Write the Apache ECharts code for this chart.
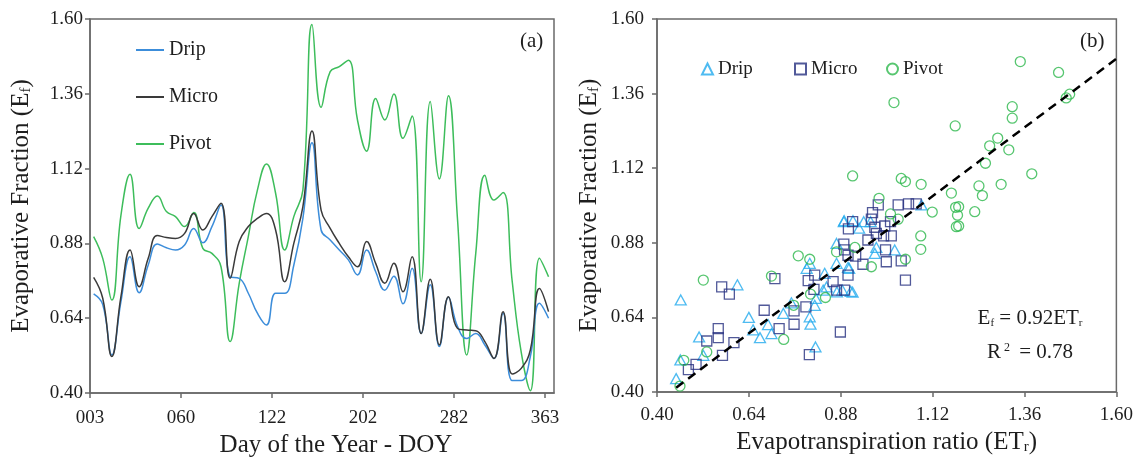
<!DOCTYPE html>
<html><head><meta charset="utf-8">
<script src="https://cdn.jsdelivr.net/npm/echarts@6/dist/echarts.min.js"></script>
<style>html,body{margin:0;padding:0;background:#fff}#c{width:1136px;height:463px}</style>
</head><body><div id="c"></div>
<script>
// ---------- Panel (a): time series ----------
const doyTickLabels = ['003', '060', '122', '202', '282', '363'];
const doyTickPos = [0, 10, 20, 30, 40, 50];
// observation positions along the DOY axis (in axis units)
const obsPos = [0.4, 1.4, 2.4, 3.4, 4.4, 5.4, 6.4, 7.4, 8.4, 9.4, 10.4, 11.4, 12.4, 13.4, 14.4, 15.4, 16.4, 17.4, 18.4, 19.4,
  20.4, 21.4, 22.4, 23.4, 24.4, 25.4, 26.4, 27.4, 28.4, 29.4, 30.4, 31.4, 32.4, 33.4, 34.4, 35.4, 36.4, 37.4, 38.4, 39.4,
  40.4, 41.4, 42.4, 43.4, 44.4, 45.4, 46.4, 47.4, 48.4, 49.4, 50.4];
const dripEf = [0.718, 0.684, 0.522, 0.693, 0.837, 0.722, 0.811, 0.878, 0.866, 0.859, 0.875, 0.928, 0.882, 0.934, 1.003, 0.773, 0.768,
  0.720, 0.656, 0.618, 0.720, 0.720, 0.810, 0.960, 1.203, 0.923, 0.891, 0.859, 0.827, 0.779, 0.859, 0.789, 0.730, 0.775, 0.686, 0.800,
  0.591, 0.747, 0.549, 0.707, 0.613, 0.575, 0.591, 0.554, 0.511, 0.656, 0.440, 0.440, 0.517, 0.688, 0.640];
const microEf = [0.771, 0.704, 0.517, 0.709, 0.859, 0.741, 0.832, 0.905, 0.899, 0.896, 0.912, 0.976, 0.923, 0.966, 1.009, 0.768, 0.886,
  0.934, 0.960, 0.976, 0.923, 0.757, 0.880, 0.998, 1.241, 0.987, 0.928, 0.880, 0.837, 0.805, 0.886, 0.816, 0.752, 0.816, 0.725, 0.837,
  0.591, 0.765, 0.554, 0.709, 0.607, 0.602, 0.600, 0.565, 0.511, 0.661, 0.461, 0.479, 0.538, 0.735, 0.661];
const pivotEf = [0.902, 0.832, 0.698, 0.970, 1.102, 0.928, 0.993, 1.032, 0.982, 0.966, 0.934, 0.979, 0.864, 0.848, 0.805, 0.565, 0.752,
  0.902, 1.051, 1.135, 1.041, 0.859, 0.966, 1.051, 1.582, 1.317, 1.431, 1.447, 1.468, 1.276, 1.176, 1.345, 1.276, 1.359, 1.217, 1.289,
  0.757, 1.335, 1.087, 1.354, 0.955, 0.522, 0.848, 1.099, 1.019, 1.043, 0.760, 0.530, 0.407, 0.832, 0.773];
const efTicks = [0.40, 0.64, 0.88, 1.12, 1.36, 1.60];

// ---------- Panel (b): scatter ETr vs Ef ----------
const etrTicks = [0.40, 0.64, 0.88, 1.12, 1.36, 1.60];
const dripPts = [[0.450,0.443],[0.462,0.696],[0.461,0.503],[0.510,0.577],[0.521,0.518],[0.610,0.745],[0.640,0.640],[0.651,0.600],
  [0.669,0.575],[0.690,0.617],[0.699,0.588],[0.730,0.653],[0.751,0.687],[0.791,0.798],[0.799,0.814],[0.799,0.642],[0.801,0.618],
  [0.812,0.679],[0.815,0.701],[0.814,0.545],[0.838,0.782],[0.834,0.728],[0.869,0.878],[0.869,0.814],[0.884,0.728],[0.902,0.798],
  [0.911,0.721],[0.906,0.724],[0.888,0.948],[0.940,0.948],[0.928,0.927],[0.973,0.865],[1.021,0.857],[1.091,1.002],[0.899,0.801],
  [0.843,0.738],[0.870,0.722],[0.889,0.951],[0.912,0.951],[0.958,0.948],[0.969,0.846]];
const microPts = [[0.482,0.472],[0.502,0.489],[0.530,0.564],[0.560,0.604],[0.560,0.575],[0.569,0.738],[0.589,0.715],[0.601,0.559],
  [0.571,0.518],[0.680,0.663],[0.708,0.765],[0.719,0.604],[0.758,0.661],[0.758,0.618],[0.789,0.674],[0.795,0.758],[0.798,0.520],
  [0.812,0.776],[0.810,0.730],[0.860,0.755],[0.869,0.728],[0.879,0.593],[0.888,0.876],[0.890,0.857],[0.899,0.840],[0.899,0.776],
  [0.900,0.925],[0.911,0.948],[0.919,0.837],[0.938,0.811],[0.951,0.889],[0.963,0.977],[0.960,0.956],[0.969,0.930],[0.973,0.910],
  [0.978,1.002],[0.992,0.902],[0.997,0.857],[0.995,0.934],[1.012,0.902],[0.999,0.819],[1.030,1.002],[1.057,1.005],[1.077,1.005],
  [1.038,0.822],[1.049,0.760],[1.010,0.948],[0.890,0.728]];
const pivotPts = [[0.460,0.419],[0.470,0.502],[0.521,0.760],[0.530,0.529],[0.699,0.773],[0.731,0.569],[0.757,0.679],[0.769,0.838],
  [0.799,0.827],[0.801,0.715],[0.840,0.704],[0.869,0.851],[0.911,1.095],[0.917,0.865],[0.960,0.803],[0.980,1.023],[1.010,0.973],
  [1.030,0.956],[1.038,1.087],[1.049,1.077],[1.049,0.827],[1.090,1.068],[1.089,0.902],[1.089,0.859],[1.119,0.979],[1.169,1.040],
  [1.180,0.994],[1.188,0.996],[1.185,0.969],[1.182,0.932],[1.188,0.934],[1.230,0.980],[1.241,1.063],[1.250,1.032],[1.299,1.068],
  [1.379,1.102],[1.258,1.136],[1.319,1.179],[1.269,1.192],[1.290,1.217],[1.179,1.256],[1.328,1.281],[1.328,1.318],[1.019,1.331],
  [1.349,1.463],[1.449,1.428],[1.469,1.346],[1.478,1.358]];
const fitSlope = 0.92;
const fitRange = [0.45, 1.60];
const rSquared = 0.78;

const FONT = '"Liberation Serif", "Times New Roman", serif';
const AX = '#6a6a6a';
const TXT = '#1e1e1e';
const C = { dripLine: '#3c8dda', microLine: '#3a3a3a', pivotLine: '#3dbd5b',
            dripPt: '#22aaee', microPt: '#253080', pivotPt: '#2db84c' };

function valueAxis(gridIndex, min, max, ticks, fmt, name, nameGap, labelMargin, extraName) {
  return Object.assign({
    type: 'value', gridIndex, min, max,
    axisLine: { show: true, onZero: false, lineStyle: { color: AX, width: 1.5 } },
    axisTick: { show: true, length: 5, customValues: ticks, lineStyle: { color: AX, width: 1.5 } },
    axisLabel: { customValues: ticks, formatter: fmt, margin: labelMargin, fontFamily: FONT, fontSize: 19, color: TXT },
    splitLine: { show: false },
    name, nameLocation: 'middle', nameGap,
    nameTextStyle: { fontFamily: FONT, fontSize: 25, color: TXT,
      rich: { sub: { fontFamily: FONT, fontSize: 15, color: TXT, verticalAlign: 'bottom', lineHeight: 14 } } }
  }, extraName || {});
}

const chart = echarts.init(document.getElementById('c'), null, { renderer: 'canvas' });
const efFmt = v => v.toFixed(2);
const legendText = { fontFamily: FONT, fontSize: 19, color: TXT, lineHeight: 20 };
const option = {
  animation: false,
  backgroundColor: '#fff',
  grid: [
    { left: 90, top: 19, width: 464, height: 374, show: true, borderColor: AX, borderWidth: 1.5, backgroundColor: 'transparent' },
    { left: 657, top: 19, width: 460, height: 373, show: true, borderColor: AX, borderWidth: 1.5, backgroundColor: 'transparent' }
  ],
  xAxis: [
    valueAxis(0, 0, 51, doyTickPos, v => doyTickLabels[doyTickPos.indexOf(v)] || '', 'Day of the Year - DOY', 38, 16,
      { nameTextStyle: { fontFamily: FONT, fontSize: 25, color: TXT, padding: [0, 0, 0, 28] } }),
    valueAxis(1, 0.40, 1.60, etrTicks, efFmt, 'Evapotranspiration ratio (ET{sub|r})', 38, 14)
  ],
  yAxis: [
    valueAxis(0, 0.40, 1.60, efTicks, efFmt, 'Evaporative Fraction (E{sub|f})', 56, 7),
    valueAxis(1, 0.40, 1.60, efTicks, efFmt, 'Evaporative Fraction (E{sub|f})', 55, 13)
  ],
  legend: [
    { orient: 'vertical', left: 131, top: 35, itemWidth: 28, itemHeight: 2, itemGap: 27, icon: 'rect', selectedMode: false,
      data: ['Drip', 'Micro', 'Pivot'], textStyle: { fontFamily: FONT, fontSize: 20, color: TXT, lineHeight: 20 } },
    { left: 696, top: 54, itemWidth: 11, itemHeight: 11, selectedMode: false, data: ['Drip '], formatter: n => n.trim(),
      textStyle: legendText },
    { left: 789, top: 54, itemWidth: 11, itemHeight: 11, selectedMode: false, data: ['Micro '], formatter: n => n.trim(),
      textStyle: legendText },
    { left: 881, top: 54, itemWidth: 11, itemHeight: 11, selectedMode: false, data: ['Pivot '], formatter: n => n.trim(),
      textStyle: legendText }
  ],
  series: [
    { name: 'Drip', type: 'line', xAxisIndex: 0, yAxisIndex: 0, smooth: 0.45, symbol: 'none', z: 3,
      itemStyle: { color: C.dripLine }, lineStyle: { color: C.dripLine, width: 1.5 },
      data: obsPos.map((x, i) => [x, dripEf[i]]) },
    { name: 'Micro', type: 'line', xAxisIndex: 0, yAxisIndex: 0, smooth: 0.45, symbol: 'none', z: 4,
      itemStyle: { color: C.microLine }, lineStyle: { color: C.microLine, width: 1.5 },
      data: obsPos.map((x, i) => [x, microEf[i]]) },
    { name: 'Pivot', type: 'line', xAxisIndex: 0, yAxisIndex: 0, smooth: 0.45, symbol: 'none', z: 2,
      itemStyle: { color: C.pivotLine }, lineStyle: { color: C.pivotLine, width: 1.5 },
      data: obsPos.map((x, i) => [x, pivotEf[i]]) },
    { name: 'Drip ', type: 'scatter', xAxisIndex: 1, yAxisIndex: 1, symbol: 'triangle', symbolSize: [11, 10], z: 3,
      itemStyle: { color: 'rgba(255,255,255,0)', borderColor: C.dripPt, borderWidth: 1.3 }, data: dripPts },
    { name: 'Micro ', type: 'scatter', xAxisIndex: 1, yAxisIndex: 1, symbol: 'rect', symbolSize: 10, z: 4,
      itemStyle: { color: 'rgba(255,255,255,0)', borderColor: C.microPt, borderWidth: 1.3 }, data: microPts },
    { name: 'Pivot ', type: 'scatter', xAxisIndex: 1, yAxisIndex: 1, symbol: 'circle', symbolSize: 10, z: 5,
      itemStyle: { color: 'rgba(255,255,255,0)', borderColor: C.pivotPt, borderWidth: 1.3 }, data: pivotPts },
    { name: 'fit', type: 'line', xAxisIndex: 1, yAxisIndex: 1, symbol: 'none', z: 6, silent: true,
      lineStyle: { color: '#000', width: 2.5, type: [9, 6] },
      data: fitRange.map(x => [x, fitSlope * x]) }
  ],
  graphic: [
    { type: 'text', left: 520, top: 31, style: { text: '(a)', font: '21px ' + FONT, fill: TXT } },
    { type: 'text', left: 1080, top: 31, style: { text: '(b)', font: '21px ' + FONT, fill: TXT } },
    { type: 'text', x: 1030, y: 318, style: {
        text: 'E{s|f} = ' + fitSlope.toFixed(2) + 'ET{s|r}', font: '21px ' + FONT, fill: TXT,
        align: 'center', verticalAlign: 'middle',
        rich: { s: { fontSize: 11, fontFamily: FONT, fill: TXT, verticalAlign: 'bottom', lineHeight: 10 } } } },
    { type: 'text', x: 1030, y: 352, style: {
        text: 'R{p|2} = ' + rSquared.toFixed(2), font: '21px ' + FONT, fill: TXT,
        align: 'center', verticalAlign: 'middle',
        rich: { p: { fontSize: 12, fontFamily: FONT, fill: TXT, verticalAlign: 'top', lineHeight: 12, padding: [0, 4, 0, 3] } } } }
  ]
};
chart.setOption(option);
</script>
</body></html>
